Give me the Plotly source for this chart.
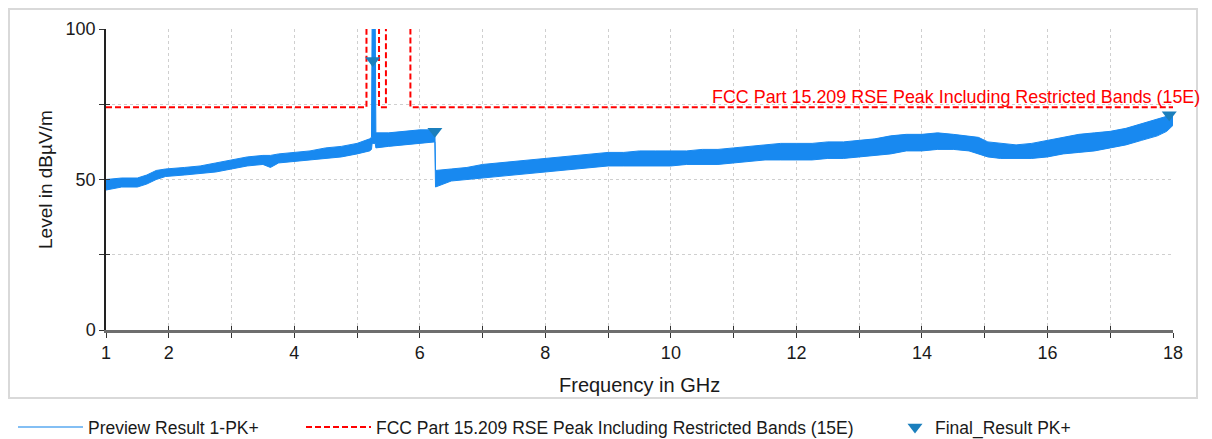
import plotly.graph_objects as go

# ---------------- data ----------------
# Preview Result 1-PK+ : envelope of the noisy trace (upper / lower edge of the band)
freq_ghz = [1.00, 1.25, 1.50, 1.65, 1.80, 1.95, 2.25, 2.50, 2.75, 3.00, 3.25, 3.50, 3.62,
            3.75, 4.00, 4.25, 4.50, 4.75, 5.00, 5.20, 5.23, 5.24, 5.29, 5.30, 5.50, 5.75,
            6.00, 6.24, 6.25, 6.50, 6.75, 7.00, 7.25, 7.50, 7.75, 8.00, 8.25, 8.50, 8.75,
            9.00, 9.25, 9.50, 9.75, 10.00, 10.25, 10.50, 10.75, 11.00, 11.25, 11.50, 11.75,
            12.00, 12.25, 12.50, 12.75, 13.00, 13.25, 13.50, 13.75, 14.00, 14.25, 14.50,
            14.75, 14.90, 15.05, 15.25, 15.50, 15.75, 16.00, 16.25, 16.50, 16.75, 17.00,
            17.25, 17.50, 17.75, 17.90, 18.00]
level_upper = [50.0, 50.5, 50.5, 51.5, 53.0, 53.5, 54.0, 54.5, 55.5, 56.5, 57.5, 58.0, 58.0,
               58.5, 59.0, 59.5, 60.5, 61.0, 62.0, 63.5, 64.0, 102.0, 102.0, 65.5, 65.5, 66.0,
               66.5, 66.5, 53.0, 53.5, 54.0, 55.0, 55.5, 56.0, 56.5, 57.0, 57.5, 58.0, 58.5,
               59.0, 59.0, 59.5, 59.5, 59.5, 59.5, 60.0, 60.0, 60.5, 61.0, 61.5, 62.0,
               62.0, 62.0, 62.5, 62.5, 63.0, 63.5, 64.5, 65.0, 65.0, 65.5, 65.0,
               64.5, 64.0, 62.5, 62.0, 61.5, 62.0, 63.0, 64.0, 65.0, 65.5, 66.0,
               67.0, 68.5, 70.0, 71.0, 72.0]
level_lower = [46.5, 47.5, 47.5, 48.5, 50.0, 51.0, 51.5, 52.0, 52.5, 53.5, 54.5, 55.0, 54.0,
               55.5, 56.0, 56.5, 57.0, 57.5, 58.5, 59.5, 60.0, 62.0, 62.0, 60.5, 61.0, 61.5,
               62.0, 62.5, 47.5, 49.5, 50.0, 50.5, 51.0, 51.5, 52.0, 52.5, 53.0, 53.5, 54.0,
               54.5, 54.5, 54.5, 54.5, 54.5, 55.0, 55.0, 55.0, 55.5, 56.0, 56.5, 56.5,
               56.5, 56.5, 57.0, 57.0, 57.5, 58.0, 58.5, 59.5, 59.5, 60.0, 60.0,
               59.5, 58.5, 57.5, 57.0, 57.0, 57.0, 57.5, 58.5, 59.0, 59.5, 60.5,
               61.5, 63.0, 64.5, 66.0, 68.0]

# FCC Part 15.209 limit line (off-scale value outside the restricted bands)
limit_freq = [1.0, 5.15, 5.15, 5.35, 5.35, 5.46, 5.46, 5.85, 5.85, 18.0]
limit_level = [74, 74, 130, 130, 74, 74, 130, 130, 74, 74]

# Final_Result PK+ markers
final_freq = [5.25, 6.24, 17.94]
final_level = [89.5, 66.0, 71.5]

x_tickvals = list(range(1, 19))
x_ticktext = ["1", "2", "", "4", "", "6", "", "8", "", "10", "", "12", "", "14", "", "16", "", "18"]
y_tickvals = [0, 25, 50, 75, 100]
y_ticktext = ["0", "", "50", "", "100"]

limit_name = "FCC Part 15.209 RSE Peak Including Restricted Bands (15E)"
trace_name = "Preview Result 1-PK+"
final_name = "Final_Result PK+"

# ---------------- styling ----------------
FONT = "Liberation Sans, Arial, sans-serif"
BLUE = "#1889f0"
MARK = "#1b7fbd"
RED = "#ff0000"
GRID = "#cfcfcf"
TXT = "#1a1a1a"

# page body has an 8px margin: figure starts at screen px (8, 8)
OFF = 8
W, H = 1212 - 2 * OFF, 439 - OFF
PL, PR, PT, PB = 106, 1173, 29, 330          # plot area in screen pixels
L, R, T, B = PL - OFF, W - (PR - OFF), PT - OFF, H - (PB - OFF)
pw, ph = PR - PL, PB - PT


def px_x(px):
    return (px - PL) / pw


def px_y(py):
    return (PB - py) / ph


fig = go.Figure()

fig.add_trace(go.Scatter(x=freq_ghz, y=level_lower, mode="lines",
                         line=dict(color=BLUE, width=1), showlegend=False, hoverinfo="skip"))
fig.add_trace(go.Scatter(x=freq_ghz, y=level_upper, mode="lines", fill="tonexty",
                         fillcolor=BLUE, line=dict(color=BLUE, width=1),
                         showlegend=False, name=trace_name))
# legend-only entry for the trace
fig.add_trace(go.Scatter(x=[None], y=[None], mode="lines", name=trace_name,
                         line=dict(color="#5aaaf0", width=1.5), legend="legend"))

fig.add_trace(go.Scatter(x=limit_freq, y=limit_level, mode="lines", name=limit_name,
                         line=dict(color=RED, width=2, dash="6px,3px"), legend="legend2"))

fig.add_trace(go.Scatter(x=final_freq, y=final_level, mode="markers", name=final_name,
                         marker=dict(symbol="triangle-down", size=13, color=MARK),
                         legend="legend3", cliponaxis=False))

legend_common = dict(orientation="h", yanchor="middle", xanchor="left",
                     font=dict(family=FONT, size=17.5, color=TXT),
                     bgcolor="rgba(0,0,0,0)", borderwidth=0)

fig.update_layout(
    width=W, height=H,
    margin=dict(l=L, r=R, t=T, b=B, autoexpand=False),
    paper_bgcolor="white", plot_bgcolor="white",
    font=dict(family=FONT, size=17, color=TXT),
    legend=dict(x=px_x(13), y=px_y(427), itemwidth=65, **legend_common),
    legend2=dict(x=px_x(301), y=px_y(427), itemwidth=65, **legend_common),
    legend3=dict(x=px_x(895), y=px_y(427), itemwidth=30, **legend_common),
    xaxis=dict(range=[1, 18], tickvals=x_tickvals, ticktext=x_ticktext,
               showgrid=True, gridcolor=GRID, griddash="dot", gridwidth=1,
               showline=True, linecolor="#6e6e6e", linewidth=2.5,
               ticks="outside", ticklen=5, tickcolor="#333333", tickwidth=1,
               ticklabelstandoff=0, zeroline=False,
               tickfont=dict(family=FONT, size=18, color=TXT)),
    yaxis=dict(range=[0, 100], tickvals=y_tickvals, ticktext=y_ticktext,
               showgrid=True, gridcolor=GRID, griddash="dot", gridwidth=1,
               showline=True, linecolor="#222222", linewidth=1.5,
               ticks="outside", ticklen=5, tickcolor="#333333", tickwidth=1,
               ticklabelstandoff=0, zeroline=False,
               tickfont=dict(family=FONT, size=18, color=TXT)),
    xaxis2=dict(overlaying="x", matches="x", range=[1, 18], tickvals=x_tickvals,
                showticklabels=False, ticks="inside", ticklen=4, tickcolor="#333333",
                showgrid=False, zeroline=False, showline=False, side="bottom"),
    yaxis2=dict(overlaying="y", matches="y", range=[0, 100], tickvals=y_tickvals,
                showticklabels=False, ticks="inside", ticklen=4, tickcolor="#333333",
                showgrid=False, zeroline=False, showline=False, side="left"),
    shapes=[dict(type="rect", xref="paper", yref="paper",
                 x0=px_x(9), x1=px_x(1197), y0=px_y(398), y1=px_y(9),
                 line=dict(color="#d9d9d9", width=2), layer="below")],
    annotations=[
        dict(text=limit_name, xref="paper", yref="paper", x=px_x(1202), y=px_y(97),
             xanchor="right", yanchor="middle", showarrow=False,
             font=dict(family=FONT, size=17.9, color=RED)),
        dict(text="Frequency in GHz", xref="paper", yref="paper", x=0.5, y=px_y(385),
             xanchor="center", yanchor="middle", showarrow=False,
             font=dict(family=FONT, size=20, color=TXT)),
        dict(text="Level in dBµV/m", xref="paper", yref="paper", x=px_x(45), y=px_y(180),
             xanchor="center", yanchor="middle", showarrow=False, textangle=-90,
             font=dict(family=FONT, size=19, color=TXT)),
    ],
)

# dummy trace to activate the overlay axes (crossing tick marks)
fig.add_trace(go.Scatter(x=[None], y=[None], xaxis="x2", yaxis="y2", showlegend=False))

fig.write_html("out.html")
